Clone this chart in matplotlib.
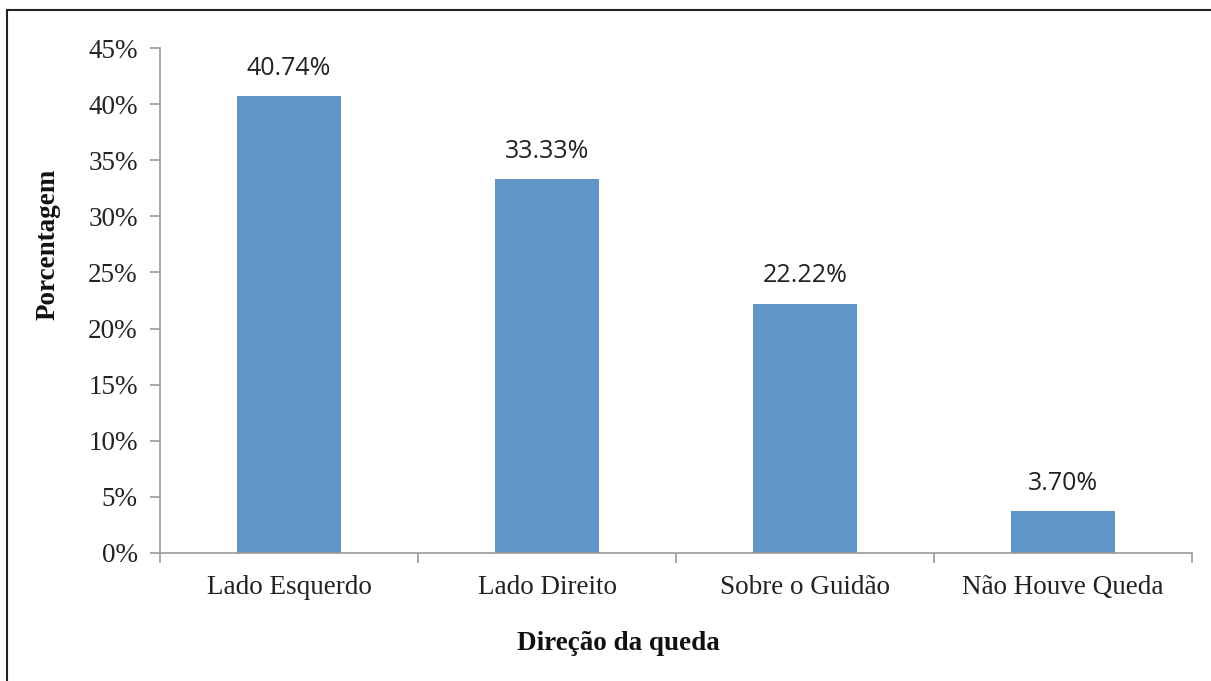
import matplotlib
matplotlib.use("Agg")
import matplotlib.pyplot as plt
from matplotlib.lines import Line2D
import numpy as np

categories = ["Lado Esquerdo", "Lado Direito", "Sobre o Guidão", "Não Houve Queda"]
values = [40.74, 33.33, 22.22, 3.70]
yticks = [0, 5, 10, 15, 20, 25, 30, 35, 40, 45]

W, H = 1211, 681
fig = plt.figure(figsize=(W/100, H/100), dpi=100)
ax = fig.add_axes([160/W, 1-553/H, (1192-160)/W, (553-48)/H])

x = np.arange(len(categories))
ax.bar(x, values, width=0.4, color="#5F95C9", zorder=2)
ax.set_xlim(-0.5, len(categories)-0.5)
ax.set_ylim(0, 45)

serif = ["Liberation Serif", "DejaVu Serif"]
ax.set_yticks(yticks)
ax.set_yticklabels([f"{t}%" for t in yticks], family=serif, fontsize=19.5, color="#222222")
ax.set_xticks(x)
ax.set_xticklabels(categories, family=serif, fontsize=19.5, color="#222222")
ax.set_xticks(np.arange(len(categories)+1)-0.5, minor=True)
ax.tick_params(axis="x", which="major", length=0, pad=16)
ax.tick_params(axis="x", which="minor", length=7, color="#999999", width=1.2)
ax.tick_params(axis="y", length=7, color="#999999", width=1.2, pad=9)

for s in ["top", "right"]:
    ax.spines[s].set_visible(False)
for s in ["left", "bottom"]:
    ax.spines[s].set_color("#999999")
    ax.spines[s].set_linewidth(1.2)

for xi, v in zip(x, values):
    ax.annotate(f"{v:.2f}%", (xi, v), xytext=(0, 11), textcoords="offset points",
                ha="center", va="bottom", fontsize=18, family=["Open Sans", "DejaVu Sans"],
                color="#222222")

fig.text(48/W, 1-244/H, "Porcentagem", rotation=90, ha="center", va="center",
         family=serif, fontsize=19.5, fontweight="bold", color="#111111")
fig.text(618/W, 1-643/H, "Direção da queda", ha="center", va="center",
         family=serif, fontsize=19.5, fontweight="bold", color="#111111")

fig.add_artist(Line2D([7/W, 7/W], [0, 1-10/H], transform=fig.transFigure, color="#222222", lw=1.5))
fig.add_artist(Line2D([7/W, 1], [1-10/H, 1-10/H], transform=fig.transFigure, color="#222222", lw=1.5))

fig.savefig("out.png", dpi=100)
